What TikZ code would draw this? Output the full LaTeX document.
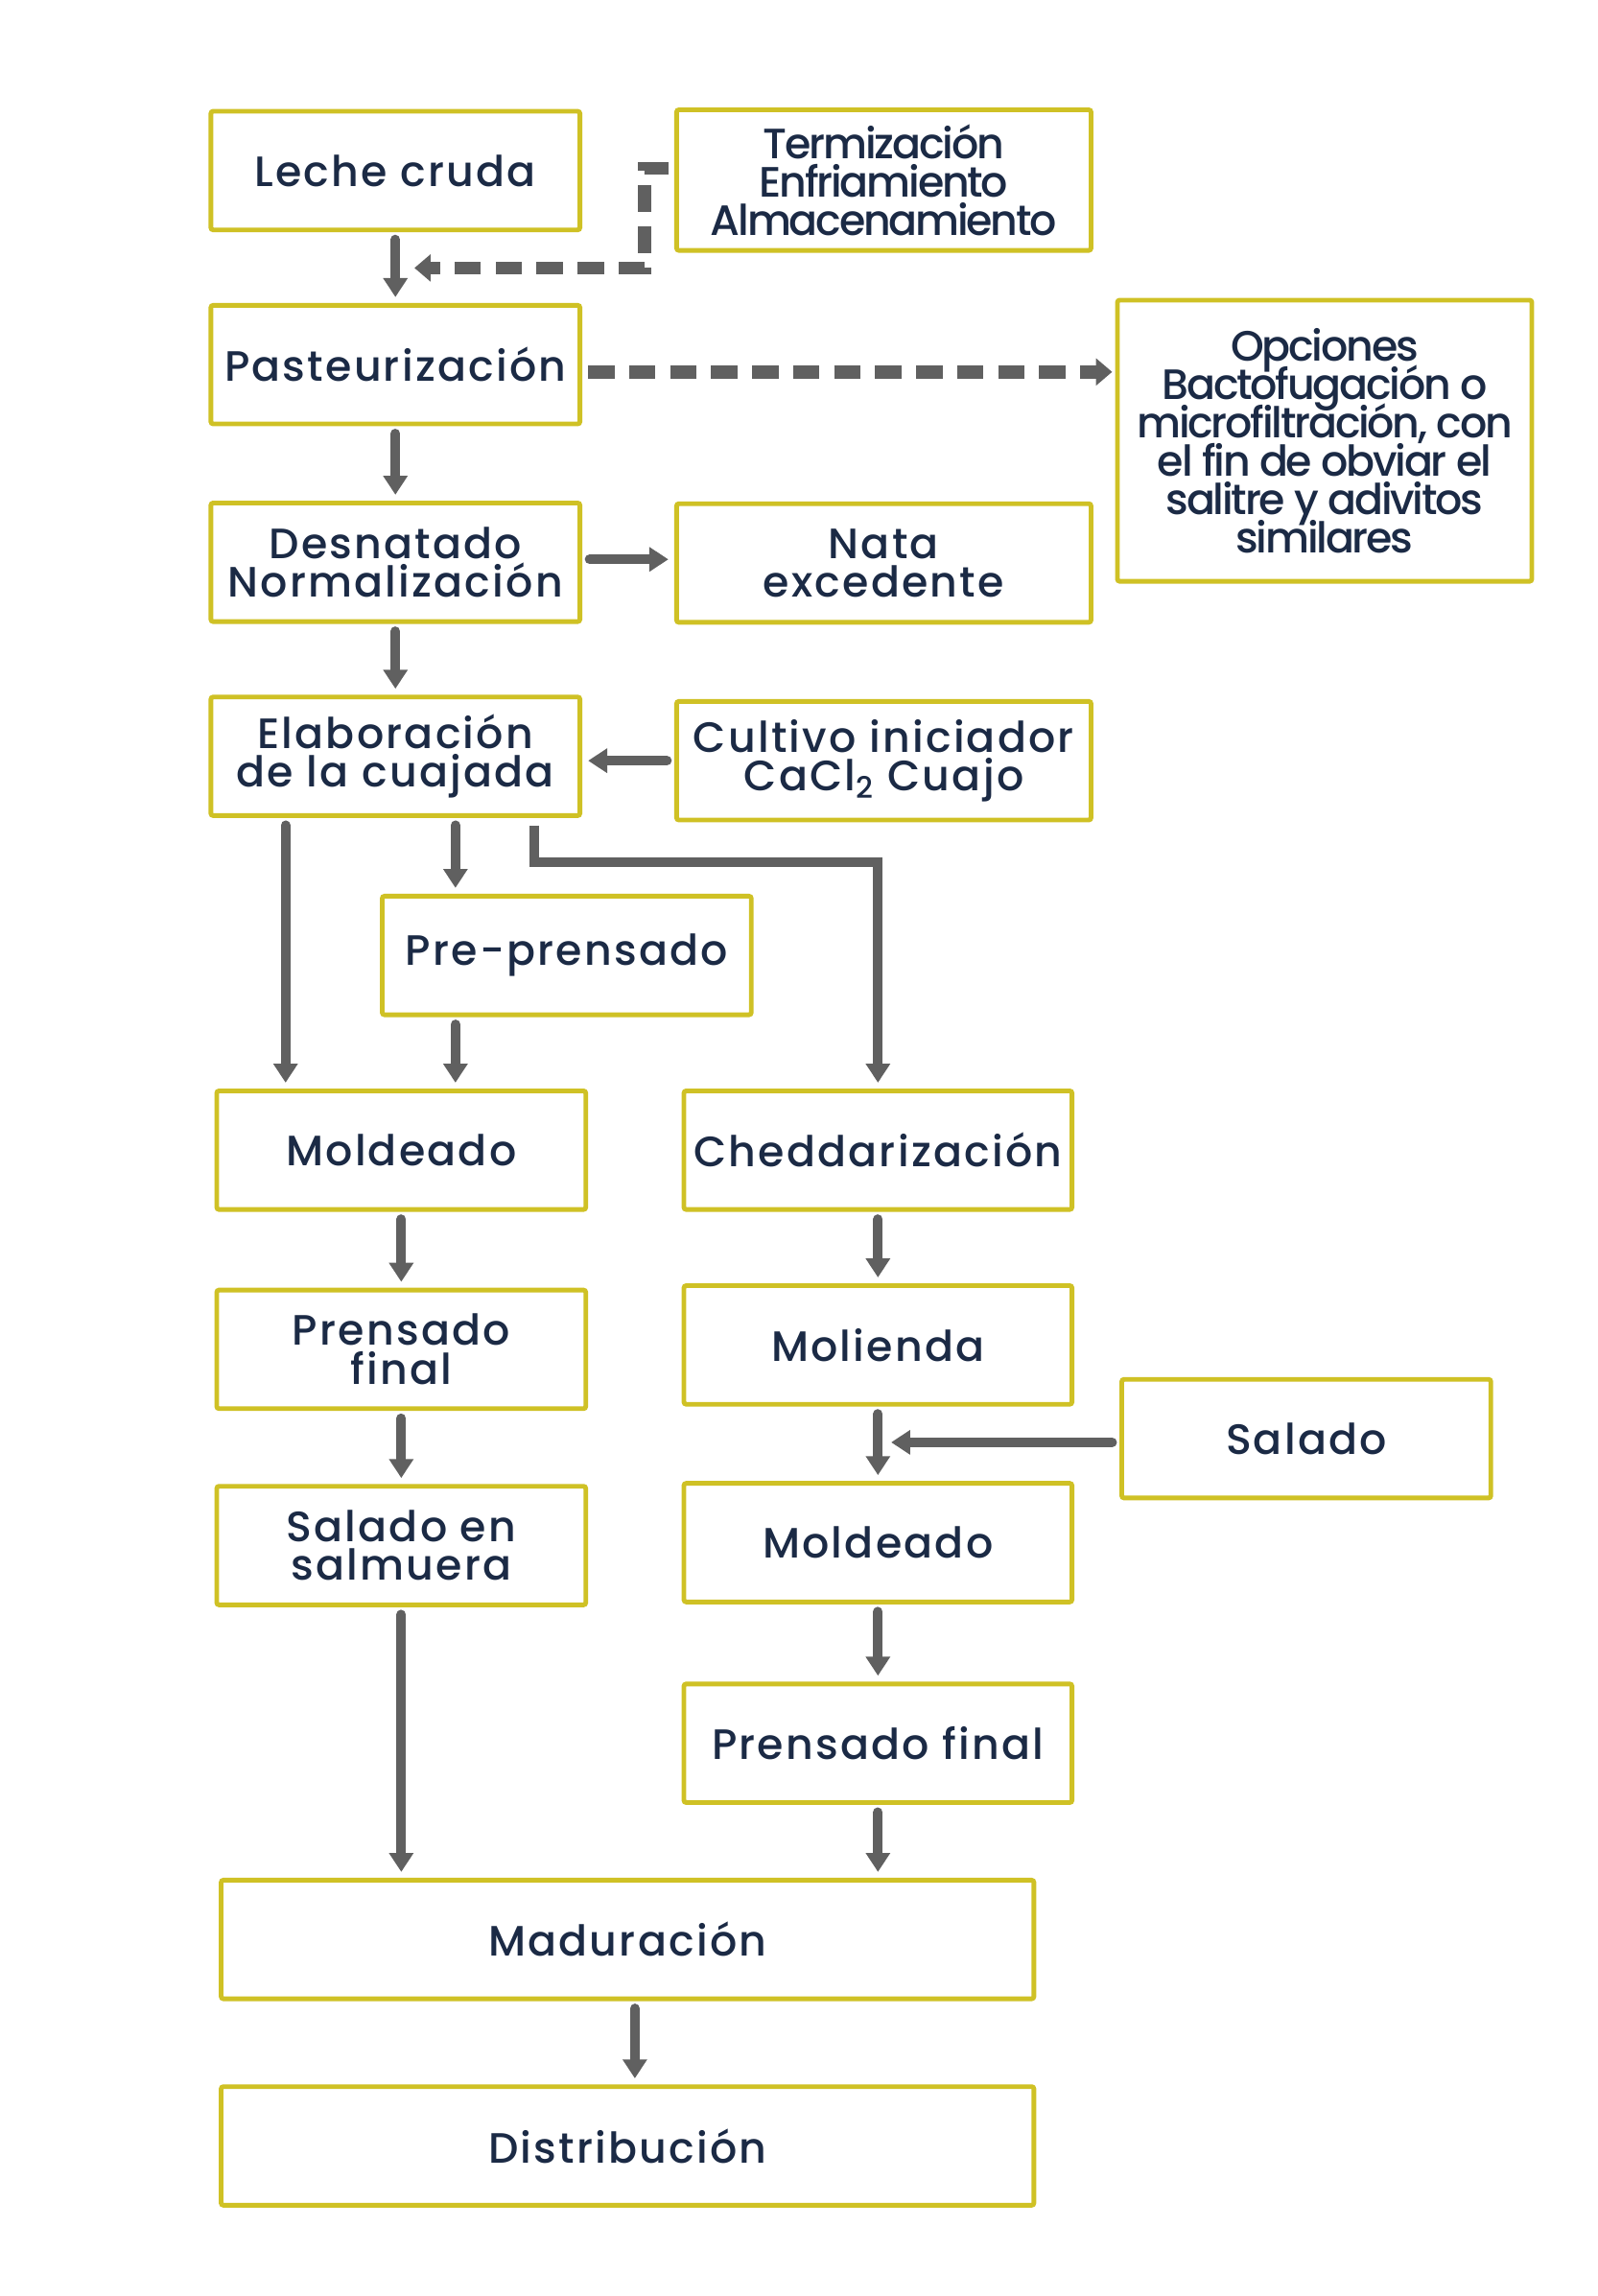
\documentclass[tikz,border=0pt]{standalone}
\usepackage{fontspec}
\setmainfont{Poppins}
\newfontfamily\boxfont{Poppins}[UprightFont=* Medium, LetterSpace=5]
\newfontfamily\tightfont{Poppins}[UprightFont=* Medium, LetterSpace=-5]
\usetikzlibrary{arrows.meta,calc}
\definecolor{boxc}{HTML}{CFC125}
\definecolor{arrc}{HTML}{606060}
\definecolor{txtc}{HTML}{1B2A45}
\setlength\lineskiplimit{-30pt}
\setlength\lineskip{0pt}
\begin{document}
\begin{tikzpicture}[x=0.5pt,y=-0.5pt,
  box/.style={draw=boxc, line width=1.6pt, rounded corners=0.8pt, fill=white,
    align=center, text=txtc, inner sep=0pt, minimum width=126pt, minimum height=40.5pt,
    font=\boxfont\fontsize{14.5}{13.2}\selectfont},
  tight/.style={font=\tightfont\fontsize{14.5}{13.1}\selectfont},
  arr/.style={draw=arrc, line width=3.3pt, line cap=round,
    -{Triangle[width=8pt,length=6.5pt]}, shorten <=2.5pt, shorten >=2pt},
  darr/.style={draw=arrc, line width=4.5pt,
    dash pattern=on 9pt off 5pt,
    -{Triangle[width=9pt,length=5.5pt]}, shorten <=2pt, shorten >=1pt}]
\useasboundingbox[fill=white] (0,0) rectangle (1091,1568);

% nodes
\node[box] (leche) at (270,116.5) {Leche cruda};
\node[box,tight,minimum width=141.5pt,minimum height=48pt] (term) at (603.5,123) {Termización\\Enfriamiento\\Almacenamiento};
\node[box] (past) at (270,249) {Pasteurización};
\node[box,tight,minimum width=141.5pt,minimum height=96pt] (opc) at (904.5,301) {Opciones\\Bactofugación o\\microfiltración, con\\el fin de obviar el\\salitre y adivitos\\similares};
\node[box] (desn) at (270,384) {Desnatado\\Normalización};
\node[box,minimum width=141.5pt] (nata) at (603.5,384.5) {Nata\\excedente};
\node[box] (elab) at (270,516.5) {Elaboración\\de la cuajada};
\node[box,minimum width=141.5pt] (cult) at (603.5,519.5) {Cultivo iniciador\\CaCl\textsubscript{2} Cuajo};
\node[box] (pre) at (387,652.5) {Pre-prensado};
\node[box] (moldL) at (274,785.5) {Moldeado};
\node[box,minimum width=132.5pt] (ched) at (599.5,785.5) {Cheddarización};
\node[box] (prenL) at (274,921.5) {Prensado\\final};
\node[box,minimum width=132.5pt] (mol) at (599.5,918.5) {Molienda};
\node[box] (sal) at (892,982.5) {Salado};
\node[box] (salm) at (274,1055.5) {Salado en\\salmuera};
\node[box,minimum width=132.5pt] (moldR) at (599.5,1053.5) {Moldeado};
\node[box,minimum width=132.5pt] (prenR) at (599.5,1190.5) {Prensado final};
\node[box,minimum width=277.5pt] (mad) at (428.5,1324.5) {Maduración};
\node[box,minimum width=277.5pt] (dist) at (428.5,1465.5) {Distribución};

\coordinate (dend) at (281,183);

% connectors
\draw[arr] (leche) -- (past);
\draw[darr] ([yshift=4pt]term.west) -- ([yshift=4pt]term.west -| 440,0) -- (440,183) -- (dend);
\draw[darr] ([yshift=-2.5pt]past.east) -- ([yshift=-2.5pt]past.east -| opc.west);
\draw[arr] (past) -- (desn);
\draw[arr] ([yshift=1pt]desn.east) -- ([yshift=1pt]desn.east -| nata.west);
\draw[arr] (desn) -- (elab);
\draw[arr] (cult.west) -- (cult.west -| elab.east);
\draw[arr] ([xshift=-37.5pt]elab.south) -- ([xshift=-37.5pt]elab.south |- moldL.north);
\draw[arr] ([xshift=20.5pt]elab.south) -- ([xshift=20.5pt]elab.south |- pre.north);
\draw[arr,line cap=butt] ([xshift=47.5pt]elab.south) -- ++(0,-15pt) -| (ched.north);
\draw[arr] ([xshift=-38pt]pre.south) -- ([xshift=-38pt]pre.south |- moldL.north);
\draw[arr] (moldL) -- (prenL);
\draw[arr] (prenL) -- (salm);
\draw[arr] (salm.south) -- (salm.south |- mad.north);
\draw[arr] (ched) -- (mol);
\draw[arr] (mol) -- (moldR);
\draw[arr,shorten >=4.5pt] ([yshift=-1.25pt]sal.west) -- ([yshift=-1.25pt]sal.west -| mol.south);
\draw[arr] (moldR) -- (prenR);
\draw[arr] (prenR.south) -- (prenR.south |- mad.north);
\draw[arr] ([xshift=2.5pt]mad.south) -- ([xshift=2.5pt]dist.north);
\end{tikzpicture}
\end{document}
